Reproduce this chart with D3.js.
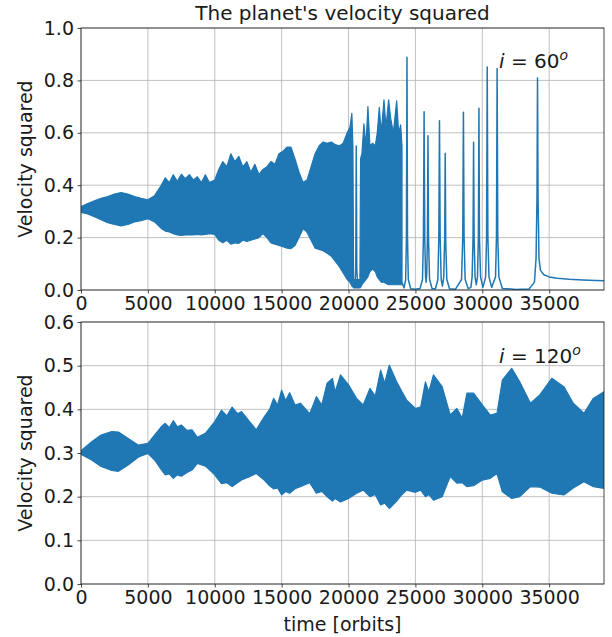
<!DOCTYPE html>
<html>
<head>
<meta charset="utf-8">
<script src="https://cdn.jsdelivr.net/npm/d3@7"></script>
<style>
  body { margin: 0; background: #fff; }
  text { font-family: "DejaVu Sans", sans-serif; fill: #1a1a1a; }
</style>
</head>
<body>
<svg id="chart" width="612" height="637"></svg>
<script>
// ---- data ----
const xTicks = [0, 5000, 10000, 15000, 20000, 25000, 30000, 35000];
const topYTicks = [0.0, 0.2, 0.4, 0.6, 0.8, 1.0];
const botYTicks = [0.0, 0.1, 0.2, 0.3, 0.4, 0.5, 0.6];

// i = 60: dense oscillation envelope (time, upper, lower)
const topBandT = [0, 500, 1000, 1500, 2000, 2500, 3000, 3500, 4000, 4500, 5000, 5500, 6000, 6300, 6600, 6900, 7200, 7500, 7800, 8100, 8400, 8700, 9000, 9300, 9600, 10000,
  10300, 10600, 10900, 11200, 11500, 11800, 12100, 12400, 12700, 13000, 13300, 13600, 13900, 14200, 14500, 14800, 15100, 15400, 15700, 16000, 16300, 16600, 16900,
  17200, 17500, 17800, 18100, 18400, 18700, 19000, 19300, 19600, 19900, 20100, 20250, 20330, 20380, 20520, 20640, 20850, 20900, 21000, 21150, 21300, 21450, 21600,
  21800, 22000, 22150, 22300, 22450, 22650, 22800, 23000, 23150, 23350, 23600, 23750, 23900, 24000];
const topBandHi = [0.318, 0.33, 0.34, 0.35, 0.357, 0.366, 0.372, 0.366, 0.357, 0.35, 0.344, 0.36, 0.40, 0.428, 0.41, 0.44, 0.415, 0.442, 0.425, 0.44, 0.42, 0.432, 0.41, 0.44, 0.41, 0.42,
  0.46, 0.49, 0.47, 0.52, 0.49, 0.51, 0.47, 0.49, 0.45, 0.48, 0.44, 0.46, 0.47, 0.49, 0.48, 0.52, 0.53, 0.545, 0.545, 0.50, 0.45, 0.41, 0.42,
  0.47, 0.52, 0.55, 0.565, 0.56, 0.565, 0.555, 0.55, 0.56, 0.60, 0.62, 0.674, 0.55, 0.04, 0.04, 0.04, 0.04, 0.50, 0.52, 0.634, 0.55, 0.70, 0.55,
  0.56, 0.55, 0.60, 0.697, 0.60, 0.726, 0.62, 0.726, 0.656, 0.60, 0.722, 0.60, 0.63, 0.55];
const topBandLo = [0.296, 0.29, 0.28, 0.268, 0.257, 0.25, 0.245, 0.25, 0.26, 0.265, 0.272, 0.26, 0.235, 0.225, 0.222, 0.215, 0.21, 0.208, 0.21, 0.21, 0.21, 0.212, 0.21, 0.212, 0.215, 0.212,
  0.19, 0.18, 0.19, 0.175, 0.18, 0.178, 0.19, 0.185, 0.19, 0.195, 0.20, 0.215, 0.20, 0.18, 0.175, 0.17, 0.165, 0.16, 0.158, 0.17, 0.20, 0.235, 0.22,
  0.19, 0.16, 0.155, 0.15, 0.14, 0.13, 0.11, 0.09, 0.065, 0.04, 0.03, 0.015, 0.012, 0.008, 0.008, 0.008, 0.008, 0.01, 0.02, 0.03, 0.04, 0.05, 0.07,
  0.08, 0.07, 0.05, 0.04, 0.03, 0.03, 0.025, 0.02, 0.02, 0.02, 0.02, 0.02, 0.02, 0.02];

// i = 60: isolated resonance spikes drawn as a line (null = break)
const topLineT = [20470, 20540, 20580, 20620, 20690, null,
  24000, 24150, 24270, 24330, 24370, 24410, 24470, 24650, 25000, 25350, 25530, 25600, 25650, 25700, 25760, 25800, 25850, 25900, 25940, 25980, 26060,
  26250, 26500, 26680, 26750, 26800, 26850, 26930, 27020, 27120, 27190, 27230, 27270, 27350, 27550, 28000, 28450, 28540, 28590, 28640, 28720, 28950,
  29150, 29240, 29310, 29350, 29390, 29460, 29550, 29640, 29710, 29750, 29790, 29870, 30050, 30250, 30320, 30370, 30420, 30500, 30700, 30990, 31060,
  31110, 31160, 31240, 31500, 32500, 33500, 33900, 34020, 34090, 34130, 34170, 34240, 34350, 34600, 35000, 35600, 36500, 37500, 38500, 39100];
const topLineV = [0.01, 0.08, 0.55, 0.08, 0.01, null,
  0.03, 0.008, 0.04, 0.2, 0.888, 0.2, 0.04, 0.005, 0.003, 0.006, 0.04, 0.2, 0.68, 0.2, 0.05, 0.03, 0.06, 0.2, 0.589, 0.2, 0.04,
  0.005, 0.005, 0.04, 0.2, 0.646, 0.2, 0.04, 0.015, 0.05, 0.2, 0.522, 0.18, 0.04, 0.005, 0.003, 0.04, 0.2, 0.678, 0.2, 0.04, 0.005,
  0.01, 0.05, 0.2, 0.564, 0.2, 0.05, 0.02, 0.05, 0.2, 0.694, 0.2, 0.05, 0.01, 0.05, 0.2, 0.851, 0.2, 0.05, 0.01, 0.05, 0.2,
  0.845, 0.2, 0.05, 0.006, 0.002, 0.004, 0.03, 0.12, 0.35, 0.809, 0.35, 0.12, 0.075, 0.058, 0.05, 0.045, 0.041, 0.038, 0.036, 0.035];

// i = 120: dense oscillation envelope (time, upper, lower)
const botBandT = [0, 800, 1500, 2300, 2800, 3500, 4300, 5000, 5500, 6000, 6300, 6600, 6900, 7200, 7500, 7900, 8300, 8700, 9300, 10000, 10500, 10900, 11300, 11700, 12000,
  12600, 13100, 13700, 14100, 14400, 14700, 15000, 15300, 15600, 16000, 16400, 17100, 17600, 18000, 18400, 18800, 19000, 19400, 20000, 20600, 21100, 21600, 22000,
  22400, 22700, 23050, 23600, 24000, 24350, 25000, 25400, 25750, 26000, 26350, 27000, 27600, 28100, 28500, 28850, 29350, 30000, 30600, 31100, 31500, 32200,
  32800, 33600, 34300, 35200, 36100, 36800, 37600, 38300, 39100];
const botBandHi = [0.305, 0.326, 0.341, 0.349, 0.348, 0.334, 0.318, 0.322, 0.341, 0.36, 0.368, 0.358, 0.374, 0.36, 0.364, 0.352, 0.353, 0.336, 0.345, 0.372, 0.398, 0.385, 0.405, 0.39, 0.395,
  0.372, 0.353, 0.383, 0.40, 0.425, 0.41, 0.444, 0.42, 0.438, 0.41, 0.414, 0.39, 0.429, 0.41, 0.46, 0.471, 0.44, 0.479, 0.456, 0.425, 0.41, 0.448, 0.43,
  0.49, 0.46, 0.501, 0.463, 0.44, 0.421, 0.402, 0.406, 0.463, 0.44, 0.479, 0.452, 0.387, 0.402, 0.38, 0.437, 0.437, 0.41, 0.387, 0.391, 0.467, 0.494,
  0.463, 0.414, 0.433, 0.471, 0.452, 0.414, 0.391, 0.425, 0.44];
const botBandLo = [0.297, 0.284, 0.269, 0.26, 0.258, 0.272, 0.291, 0.299, 0.284, 0.262, 0.25, 0.252, 0.242, 0.25, 0.247, 0.255, 0.261, 0.276, 0.27, 0.25, 0.23, 0.232, 0.223, 0.232, 0.238,
  0.246, 0.253, 0.238, 0.225, 0.218, 0.22, 0.204, 0.212, 0.208, 0.218, 0.223, 0.232, 0.208, 0.212, 0.20, 0.19, 0.196, 0.188, 0.196, 0.208, 0.215, 0.20, 0.205,
  0.181, 0.185, 0.173, 0.19, 0.205, 0.215, 0.21, 0.215, 0.20, 0.205, 0.192, 0.20, 0.246, 0.231, 0.232, 0.223, 0.225, 0.238, 0.242, 0.253, 0.211, 0.196,
  0.20, 0.223, 0.222, 0.208, 0.204, 0.22, 0.234, 0.223, 0.219];

// ---- layout ----
const blue = "#1f77b4";
const left = 81, right = 604;
const svg = d3.select("#chart");

function zipBand(ts, hi, lo) {
  return ts.map((t, i) => ({ t: t, hi: hi[i], lo: lo[i] }));
}
function zipLine(ts, vs) {
  return ts.map((t, i) => ({ t: t, v: vs[i] }));
}

function drawPanel(opt) {
  const x = d3.scaleLinear().domain([0, 39100]).range([left, right]);
  const y = d3.scaleLinear().domain(opt.yDomain).range([opt.bottom, opt.top]);
  const g = svg.append("g");

  // grid
  g.append("g").selectAll("line").data(xTicks).join("line")
    .attr("x1", d => x(d)).attr("x2", d => x(d))
    .attr("y1", opt.top).attr("y2", opt.bottom)
    .attr("stroke", "#b0b0b0").attr("stroke-width", 0.8);
  g.append("g").selectAll("line").data(opt.yTicks).join("line")
    .attr("x1", left).attr("x2", right)
    .attr("y1", d => y(d)).attr("y2", d => y(d))
    .attr("stroke", "#b0b0b0").attr("stroke-width", 0.8);

  // clip
  svg.append("clipPath").attr("id", opt.id)
    .append("rect").attr("x", left).attr("y", opt.top)
    .attr("width", right - left).attr("height", opt.bottom - opt.top);
  const plot = g.append("g").attr("clip-path", `url(#${opt.id})`);

  const area = d3.area()
    .x(d => x(d.t)).y0(d => y(d.lo)).y1(d => y(d.hi));
  plot.append("path").datum(opt.band)
    .attr("d", area)
    .attr("fill", blue).attr("stroke", blue).attr("stroke-width", 1.2)
    .attr("stroke-linejoin", "round");

  if (opt.line) {
    const line = d3.line()
      .defined(d => d.t != null && d.v != null)
      .x(d => x(d.t)).y(d => y(d.v));
    plot.append("path").datum(opt.line)
      .attr("d", line)
      .attr("fill", "none").attr("stroke", blue).attr("stroke-width", 1.5)
      .attr("stroke-linejoin", "round");
  }

  // axes
  const ax = g.append("g").attr("transform", `translate(0,${opt.bottom})`)
    .call(d3.axisBottom(x).tickValues(xTicks).tickSize(3.5).tickPadding(3.5).tickFormat(d3.format("d")));
  const ay = g.append("g").attr("transform", `translate(${left},0)`)
    .call(d3.axisLeft(y).tickValues(opt.yTicks).tickSize(3.5).tickPadding(3.5).tickFormat(d3.format(".1f")));
  [ax, ay].forEach(a => {
    a.select(".domain").remove();
    a.selectAll(".tick line").attr("stroke", "#1a1a1a").attr("stroke-width", 0.8);
    a.selectAll("text").attr("font-size", 19).attr("fill", "#1a1a1a")
      .style("font-family", "'DejaVu Sans', sans-serif");
  });

  // frame
  g.append("rect").attr("x", left).attr("y", opt.top)
    .attr("width", right - left).attr("height", opt.bottom - opt.top)
    .attr("fill", "none").attr("stroke", "#1a1a1a").attr("stroke-width", 0.8);

  // y label
  g.append("text")
    .attr("transform", `translate(25,${(opt.top + opt.bottom) / 2}) rotate(-90)`)
    .attr("text-anchor", "middle").attr("dy", "0.35em").attr("font-size", 19)
    .text("Velocity squared");

  // annotation
  const ann = g.append("text").attr("x", opt.annX).attr("y", opt.annY).attr("font-size", 20);
  ann.append("tspan").attr("font-style", "italic").text("i");
  ann.append("tspan").text(" = " + opt.angle);
  ann.append("tspan").attr("font-style", "italic").attr("font-size", 14).attr("dy", -8).text("o");
}

drawPanel({
  id: "clipTop", top: 28, bottom: 290, yDomain: [0, 1], yTicks: topYTicks,
  band: zipBand(topBandT, topBandHi, topBandLo),
  line: zipLine(topLineT, topLineV),
  angle: "60", annX: 499, annY: 68
});
drawPanel({
  id: "clipBot", top: 322, bottom: 584, yDomain: [0, 0.6], yTicks: botYTicks,
  band: zipBand(botBandT, botBandHi, botBandLo),
  line: null,
  angle: "120", annX: 499, annY: 363
});

// title and x label
svg.append("text").attr("x", (left + right) / 2).attr("y", 20)
  .attr("text-anchor", "middle").attr("font-size", 20)
  .text("The planet's velocity squared");
svg.append("text").attr("x", (left + right) / 2).attr("y", 631)
  .attr("text-anchor", "middle").attr("font-size", 19)
  .text("time [orbits]");
</script>
</body>
</html>
